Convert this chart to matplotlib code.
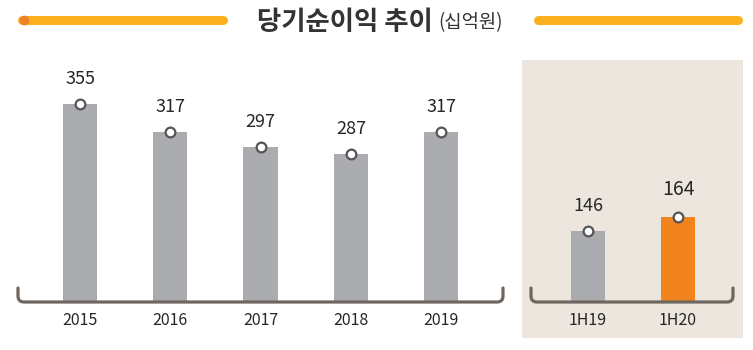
import matplotlib
matplotlib.use("Agg")
import matplotlib.pyplot as plt
from matplotlib.path import Path
from matplotlib.patches import PathPatch, Rectangle

plt.rcParams['font.family'] = ['Noto Sans CJK KR', 'DejaVu Sans']

# 연간 / 반기 당기순이익 (십억원)
years = ['2015', '2016', '2017', '2018', '2019']
annual = [355, 317, 297, 287, 317]
halves = ['1H19', '1H20']
half_vals = [146, 164]

GRAY = '#abacaf'
ORANGE = '#f2841f'
BRACKET = '#6e665f'
TXT = '#262626'

W, H = 753, 350
fig = plt.figure(figsize=(W / 100, H / 100), dpi=100)

# 배경/제목용 픽셀 좌표 축
bg = fig.add_axes([0, 0, 1, 1])
bg.set_xlim(0, W)
bg.set_ylim(H, 0)
bg.axis('off')
bg.set_zorder(0)

bg.add_patch(Rectangle((522, 60), 221, 278, color='#ece6df', lw=0))

# 제목 양옆 장식선
bg.plot([22, 223], [20, 20], color='#fbb01f', lw=6.5, solid_capstyle='round')
bg.plot([538, 738], [20, 20], color='#fbb01f', lw=6.5, solid_capstyle='round')
bg.plot([24], [20], 'o', color='#ef8226', ms=7, mew=0)

t = bg.text(257, 22, '당기순이익 추이', fontsize=19, fontweight='bold',
            color='#333333', ha='left', va='center')
fig.canvas.draw()
bb = t.get_window_extent()
bg.annotate('(십억원)', xy=(bb.x1, bb.y0 + 2), xycoords='figure pixels',
            xytext=(4, 0), textcoords='offset points',
            fontsize=13.5, color='#333333', ha='left', va='bottom')


def px_axes(x0, x1, y_top, y_bot):
    return fig.add_axes([x0 / W, 1 - y_bot / H, (x1 - x0) / W, (y_bot - y_top) / H])


def bracket(x0, x1, y=302, top=288, r=6):
    verts = [(x0, top), (x0, y - r), (x0, y), (x0 + r, y),
             (x1 - r, y), (x1, y), (x1, y - r), (x1, top)]
    codes = [Path.MOVETO, Path.LINETO, Path.CURVE3, Path.CURVE3,
             Path.LINETO, Path.CURVE3, Path.CURVE3, Path.LINETO]
    p = PathPatch(Path(verts, codes), fill=False, ec=BRACKET, lw=2.3,
                  transform=bg.transData, clip_on=False, zorder=5,
                  capstyle='round')
    return p


def draw_panel(ax, labels, vals, colors, xlim, ylim):
    xs = range(len(vals))
    ax.bar(xs, vals, width=0.38, color=colors, zorder=2)
    ax.plot(xs, vals, 'o', ms=7, mfc='white', mec='#555555', mew=1.6, zorder=3)
    for i, v in enumerate(vals):
        hi = colors[i] == ORANGE
        ax.annotate(str(v), (i, v), xytext=(0, 20 if hi else 18),
                    textcoords='offset points', ha='center', va='center',
                    fontsize=14 if hi else 13, color=TXT)
    ax.set_xlim(*xlim)
    ax.set_ylim(*ylim)
    ax.set_xticks(list(xs))
    ax.set_xticklabels(labels, fontsize=11.5, color=TXT)
    ax.tick_params(axis='x', length=0, pad=7)
    ax.set_yticks([])
    for s in ax.spines.values():
        s.set_visible(False)
    ax.patch.set_alpha(0)
    ax.set_zorder(1)


ax1 = px_axes(18, 504, 60, 302)
draw_panel(ax1, years, annual, [GRAY] * 5, (-0.687, 4.695), (88, 414))
ax1.add_patch(bracket(18, 503))

ax2 = px_axes(530, 734, 60, 302)
draw_panel(ax2, halves, half_vals, [GRAY, ORANGE], (-0.644, 1.622), (50, 376))
ax2.add_patch(bracket(531, 733))

fig.savefig('out.png', dpi=100)
